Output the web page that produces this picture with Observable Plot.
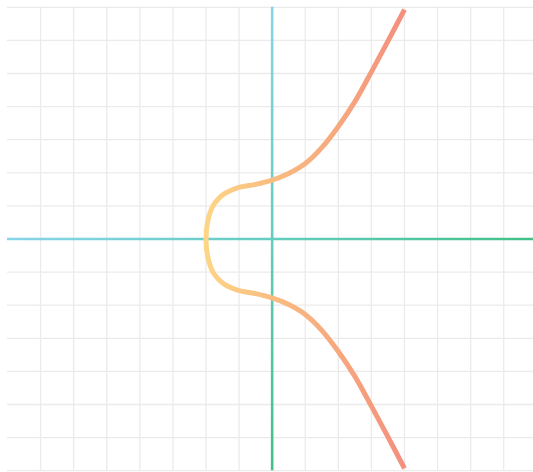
<!DOCTYPE html>
<html><head><meta charset="utf-8">
<script src="https://cdn.jsdelivr.net/npm/d3@7"></script>
<script src="https://cdn.jsdelivr.net/npm/@observablehq/plot@0.6"></script>
<style>html,body{margin:0;padding:0;background:#fff;overflow:hidden}svg{display:block}</style>
</head><body><div id="chart"></div>
<script>
// grid positions (units)
const gridX = [-7,-6,-5,-4,-3,-2,-1,0,1,2,3,4,5,6,7];
const gridY = [-7,-6,-5,-4,-3,-2,-1,0,1,2,3,4,5,6,7];
// curve points: lower branch (right end -> vertex), upper branch (vertex -> right end)
const lowerX = [4.0, 3.5, 3.0, 2.5, 2.0, 1.5, 1.0, 0.5, 0, -0.5, -1.0, -1.2, -1.44, -1.6, -1.79, -1.95];
const lowerY = [-6.93, -5.98, -5.05, -4.15, -3.4, -2.76, -2.28, -1.98, -1.78, -1.65, -1.56, -1.49, -1.37, -1.24, -1.0, -0.52];
const upperX = [-2, -1.95, -1.79, -1.6, -1.44, -1.2, -1.0, -0.5, 0, 0.5, 1.0, 1.5, 2.0, 2.5, 3.0, 3.5, 4.0];
const upperY = [0, 0.52, 1.0, 1.24, 1.37, 1.49, 1.56, 1.65, 1.78, 1.98, 2.28, 2.76, 3.4, 4.15, 5.05, 5.98, 6.93];

const curve = [
  ...lowerX.map((x, i) => ({x, y: lowerY[i]})),
  ...upperX.map((x, i) => ({x, y: upperY[i]}))
];

function defsMark(index, scales) {
  const sx = scales && typeof scales.x === "function" ? scales.x : (v => 7 + (v + 8) * 33.1);
  const sy = scales && typeof scales.y === "function" ? scales.y : (v => 6.8 + (7 - v) * 33.1);
  const defs = d3.create("svg:defs");
  const gx = defs.append("linearGradient").attr("id", "axisX").attr("gradientUnits", "userSpaceOnUse")
    .attr("x1", sx(-8)).attr("x2", sx(7.9)).attr("y1", 0).attr("y2", 0);
  gx.append("stop").attr("offset", 0).attr("stop-color", "#88d4e8");
  gx.append("stop").attr("offset", 0.5).attr("stop-color", "#64cdc0");
  gx.append("stop").attr("offset", 1).attr("stop-color", "#42c087");
  const gy = defs.append("linearGradient").attr("id", "axisY").attr("gradientUnits", "userSpaceOnUse")
    .attr("x1", 0).attr("x2", 0).attr("y1", sy(7)).attr("y2", sy(-7));
  gy.append("stop").attr("offset", 0).attr("stop-color", "#88d4e8");
  gy.append("stop").attr("offset", 0.5).attr("stop-color", "#64cdc0");
  gy.append("stop").attr("offset", 1).attr("stop-color", "#42c087");
  const gc = defs.append("linearGradient").attr("id", "curveGrad").attr("gradientUnits", "userSpaceOnUse")
    .attr("x1", sx(-2)).attr("x2", sx(4)).attr("y1", 0).attr("y2", 0);
  gc.append("stop").attr("offset", 0).attr("stop-color", "#fdd586");
  gc.append("stop").attr("offset", 0.35).attr("stop-color", "#f9bb80");
  gc.append("stop").attr("offset", 0.7).attr("stop-color", "#f6a67e");
  gc.append("stop").attr("offset", 1).attr("stop-color", "#f48f7d");
  return defs.node();
}

const chart = Plot.plot({
  width: 533,
  height: 472,
  marginLeft: 7,
  marginRight: 0,
  marginTop: 6.8,
  marginBottom: 1.8,
  x: {domain: [-8, 7.9], axis: null},
  y: {domain: [-7, 7], axis: null},
  marks: [
    defsMark,
    Plot.ruleX(gridX, {stroke: "#ebebeb", strokeWidth: 1.3}),
    Plot.ruleY(gridY, {stroke: "#ebebeb", strokeWidth: 1.3}),
    Plot.ruleY([0], {stroke: "url(#axisX)", strokeWidth: 2.6}),
    Plot.ruleX([0], {stroke: "url(#axisY)", strokeWidth: 2.6}),
    Plot.line(curve, {x: "x", y: "y", curve: "catmull-rom", stroke: "url(#curveGrad)", strokeWidth: 5, strokeLinecap: "butt"})
  ]
});
document.getElementById("chart").appendChild(chart);
</script>
</body></html>
